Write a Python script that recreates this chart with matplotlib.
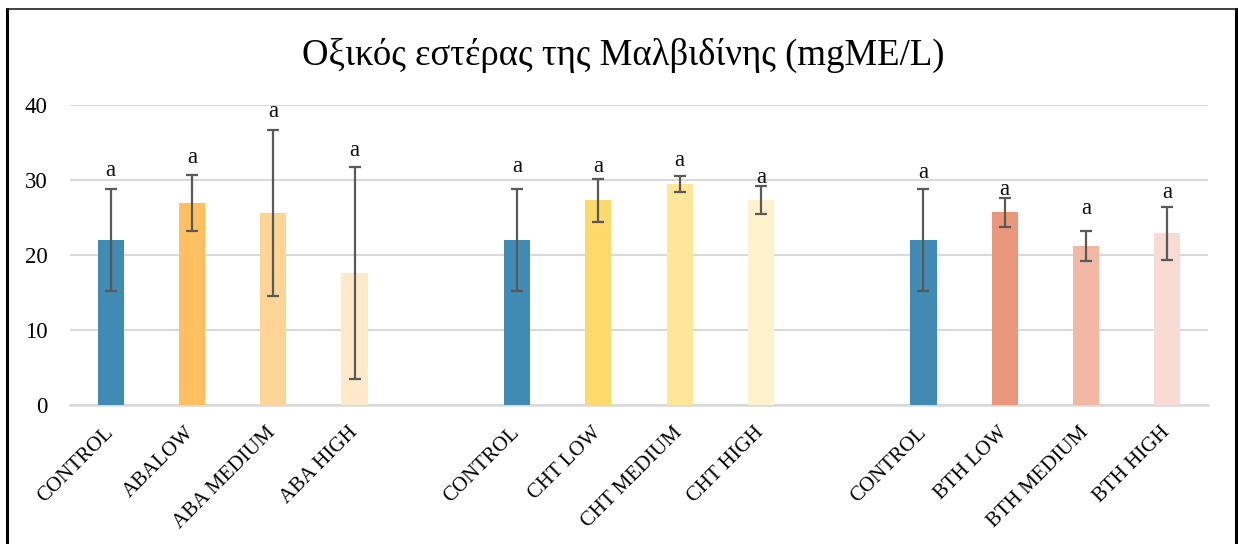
import matplotlib
matplotlib.use("Agg")
import matplotlib.pyplot as plt
from matplotlib.lines import Line2D
import numpy as np

plt.rcParams['font.family'] = ['Liberation Serif', 'DejaVu Serif']

title = "Οξικός εστέρας της Μαλβιδίνης (mgME/L)"

# three treatment groups, each with its own control
aba_labels = ["CONTROL", "ABALOW", "ABA MEDIUM", "ABA HIGH"]
cht_labels = ["CONTROL", "CHT LOW", "CHT MEDIUM", "CHT HIGH"]
bth_labels = ["CONTROL", "BTH LOW", "BTH MEDIUM", "BTH HIGH"]

aba_means = [22.0, 26.95, 25.6, 17.6]
cht_means = [22.0, 27.3, 29.5, 27.3]
bth_means = [22.0, 25.7, 21.2, 22.9]

aba_err = [6.8, 3.75, 11.1, 14.1]
cht_err = [6.8, 2.85, 1.05, 1.85]
bth_err = [6.8, 1.95, 2.0, 3.5]

aba_letters = ["a", "a", "a", "a"]
cht_letters = ["a", "a", "a", "a"]
bth_letters = ["a", "a", "a", "a"]

y_ticks = [0, 10, 20, 30, 40]

aba_colors = ["#418AB3", "#FEC060", "#FED597", "#FEEACB"]
cht_colors = ["#418AB3", "#FFD96B", "#FFE699", "#FFF2CC"]
bth_colors = ["#418AB3", "#EB977B", "#F2B8A5", "#F8DBD2"]

# spacing of the significance letters above each error bar (pixels)
letter_pad_px = [[19, 17, 18, 17], [23, 12, 15, 9], [17, 8, 23, 14]]

groups = [
    (aba_labels, aba_means, aba_err, aba_letters, aba_colors),
    (cht_labels, cht_means, cht_err, cht_letters, cht_colors),
    (bth_labels, bth_means, bth_err, bth_letters, bth_colors),
]

fig = plt.figure(figsize=(12.38, 5.44), dpi=100)
ax = fig.add_axes([70 / 1238, 139 / 544, 1138 / 1238, 300 / 544])

positions, tick_labels = [], []
for g, (labels, means, errs, letters, colors) in enumerate(groups):
    x = np.arange(len(labels)) + g * (len(labels) + 1)
    ax.bar(x, means, width=0.32, color=colors, zorder=2)
    ax.errorbar(x, means, yerr=errs, fmt='none', ecolor='#595959',
                elinewidth=1.6, capsize=4.0, capthick=1.6, zorder=3)
    for xi, m, e, t, p in zip(x, means, errs, letters, letter_pad_px[g]):
        ax.annotate(t, (xi, m + e), xytext=(0, p * 0.72), textcoords='offset points',
                    ha='center', va='center', fontsize=16.5, color='#111111')
    positions.extend(x)
    tick_labels.extend(labels)

ax.set_xlim(-0.5, 13.5)
ax.set_ylim(0, 40)
ax.set_yticks(y_ticks)
ax.set_xticks(positions)
ax.set_xticklabels(tick_labels, rotation=45, ha='right', va='center',
                   rotation_mode='anchor', fontsize=15)
ax.tick_params(axis='x', length=0, pad=18)
ax.tick_params(axis='y', length=0, pad=16, labelsize=16.5)
ax.yaxis.grid(True, color='#D9D9D9', linewidth=1.5, zorder=0)
ax.set_axisbelow(True)
for s in ['top', 'right', 'left']:
    ax.spines[s].set_visible(False)
ax.spines['bottom'].set_color('#D9D9D9')
ax.spines['bottom'].set_linewidth(1.8)
ax.spines['bottom'].set_zorder(1)

fig.text(623 / 1238, 1 - 55 / 544, title, ha='center', va='center', fontsize=26.5)

# outer chart frame
W, H = 1238, 544
fig.add_artist(Line2D([7 / W, 7 / W], [0, 1 - 9 / H], transform=fig.transFigure,
                      color='black', linewidth=2.2))
fig.add_artist(Line2D([1236 / W, 1236 / W], [0, 1 - 9 / H], transform=fig.transFigure,
                      color='black', linewidth=2.2))
fig.add_artist(Line2D([7 / W, 1236 / W], [1 - 9 / H, 1 - 9 / H], transform=fig.transFigure,
                      color='#222222', linewidth=1.2))

fig.savefig("out.png", dpi=100)
